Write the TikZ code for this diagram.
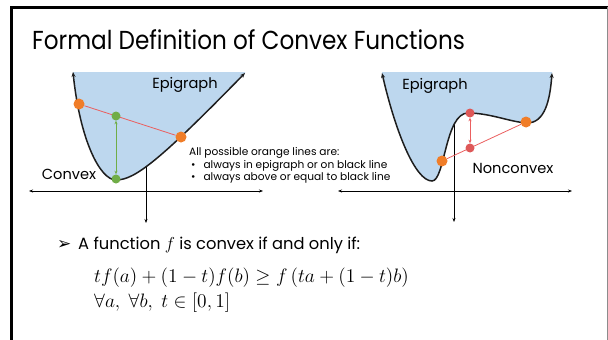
\documentclass[tikz,border=0pt]{standalone}
\usepackage[no-math]{fontspec}
\setmainfont{Poppins}
\newfontfamily\dejavu{DejaVu Sans}
\usetikzlibrary{arrows.meta}
\definecolor{epi}{RGB}{189,215,238}
\definecolor{dotorange}{RGB}{240,125,40}
\definecolor{dotgreen}{RGB}{112,173,71}
\definecolor{dotred}{RGB}{222,88,88}
\definecolor{chordred}{RGB}{235,95,95}
\definecolor{curveblack}{RGB}{30,30,30}
\begin{document}
\begin{tikzpicture}[x=1pt,y=-1pt,
  odot/.style={circle,fill=dotorange,inner sep=0pt,minimum size=11pt},
  gdot/.style={circle,fill=dotgreen,inner sep=0pt,minimum size=9pt},
  rdot/.style={circle,fill=dotred,inner sep=0pt,minimum size=9pt},
  axisline/.style={line width=0.9pt,black,{Stealth[length=4pt,width=3pt]}-{Stealth[length=4pt,width=3pt]}},
  vaxis/.style={line width=0.9pt,black,-{Stealth[length=4pt,width=3pt]}},
  fcurve/.style={line width=1.5pt,curveblack,{Stealth[length=5pt,width=4pt]}-{Stealth[length=5pt,width=4pt]}},
  chord/.style={draw=chordred,line width=0.8pt},
  lbl/.style={inner sep=0pt,font=\fontsize{14.6}{17}\selectfont},
  small/.style={inner sep=0pt,font=\fontsize{10.6}{12}\selectfont},
  body/.style={inner sep=0pt,font=\fontsize{16.3}{19}\selectfont},
  mathtxt/.style={anchor=west,inner sep=0pt,font=\fontsize{14.4}{17}\selectfont}]
\useasboundingbox (0,0) rectangle (608,340);
\fill[white] (0,0) rectangle (608,340);
% frame
\coordinate (ftl) at (11,7);
\coordinate (fbl) at (11,340);
\coordinate (ftr) at (607.5,7);
\coordinate (fbr) at (607.5,340);
\draw[line width=3pt,black] (fbl) -- (ftl) -- (ftr);
\draw[line width=1pt,black!45] (ftr) -- (fbr);
% title
\node[anchor=west,inner sep=0pt,font=\fontsize{26}{30}\selectfont] (title) at (32,40) {\scalebox{0.89}[1]{Formal Definition of Convex Functions}};

% ---------- left plot ----------
\coordinate (lha) at (29,191);
\coordinate (lhb) at (263,191);
\coordinate (lva) at (146,100);
\coordinate (lvb) at (146,223);
\draw[axisline] (lha) -- (lhb);
\draw[vaxis] (lva) -- (lvb);
\fill[epi] (73,72) .. controls (80,140) and (100,180) .. (116,180)
  .. controls (135,180) and (160,160) .. (245,73) -- (245,72) -- cycle;
\draw[fcurve] (73,72) .. controls (80,140) and (100,180) .. (116,180)
  .. controls (135,180) and (160,160) .. (245,73);
\node[lbl] (epil) at (185,85) {Epigraph};
\node[lbl] (convex) at (69,174) {Convex};
\node[odot] (oa) at (79,104) {};
\node[odot] (ob) at (181,137) {};
\draw[chord] (oa) -- (ob);
\node[gdot] (ga) at (116,116) {};
\node[gdot] (gb) at (116,179) {};
\draw[dotgreen,line width=1pt,{Stealth[length=3.5pt,width=3pt]}-{Stealth[length=3.5pt,width=3pt]}] (ga) -- (gb);

% note text
\node[small,anchor=west] (n1) at (189,153) {All possible orange lines are:};
\node[small,anchor=west] (n2) at (191,165.5) {•\hspace{8pt}always in epigraph or on black line};
\node[small,anchor=west] (n3) at (191,178) {•\hspace{8pt}always above or equal to black line};

% ---------- right plot ----------
\coordinate (rha) at (338,191);
\coordinate (rhb) at (572,191);
\coordinate (rva) at (454,100);
\coordinate (rvb) at (454,222);
\draw[axisline] (rha) -- (rhb);
\draw[vaxis] (rva) -- (rvb);
\fill[epi] (382,73) .. controls (395,130) and (415,181) .. (432,181)
  .. controls (445,181) and (445,113) .. (468,113)
  .. controls (490,113) and (510,122) .. (527,123)
  .. controls (545,123) and (550,100) .. (552,73) -- (552,72) -- (382,72) -- cycle;
\draw[fcurve] (382,73) .. controls (395,130) and (415,181) .. (432,181)
  .. controls (445,181) and (445,113) .. (468,113)
  .. controls (490,113) and (510,122) .. (527,123)
  .. controls (545,123) and (550,100) .. (552,73);
\node[lbl] (epir) at (435,86) {Epigraph};
\node[lbl] (nonconvex) at (513,168) {Nonconvex};
\node[odot] (oc) at (442,161) {};
\node[odot] (od) at (526,122) {};
\draw[chord] (oc) -- (od);
\node[rdot] (ra) at (470,113) {};
\node[rdot] (rb) at (470,148) {};
\draw[chordred,line width=0.8pt,{Stealth[length=3.5pt,width=3pt]}-{Stealth[length=3.5pt,width=3pt]}] (ra) -- (rb);

% ---------- bottom text ----------
\node[body,anchor=west] (arrowb) at (57,244.5) {\dejavu\fontsize{17}{19}\selectfont ➢};
\node[body,anchor=west] (stmt) at (78,245) {A function $f$ is convex if and only if:};
\node[mathtxt] (eq1) at (94,278) {\scalebox{1.35}{$tf(a)+(1-t)f(b)\geq f\left(ta+(1-t)b\right)$}};
\node[mathtxt] (eq2) at (94,303) {\scalebox{1.35}{$\forall a,\ \forall b,\ t\in[0,1]$}};
\end{tikzpicture}
\end{document}
